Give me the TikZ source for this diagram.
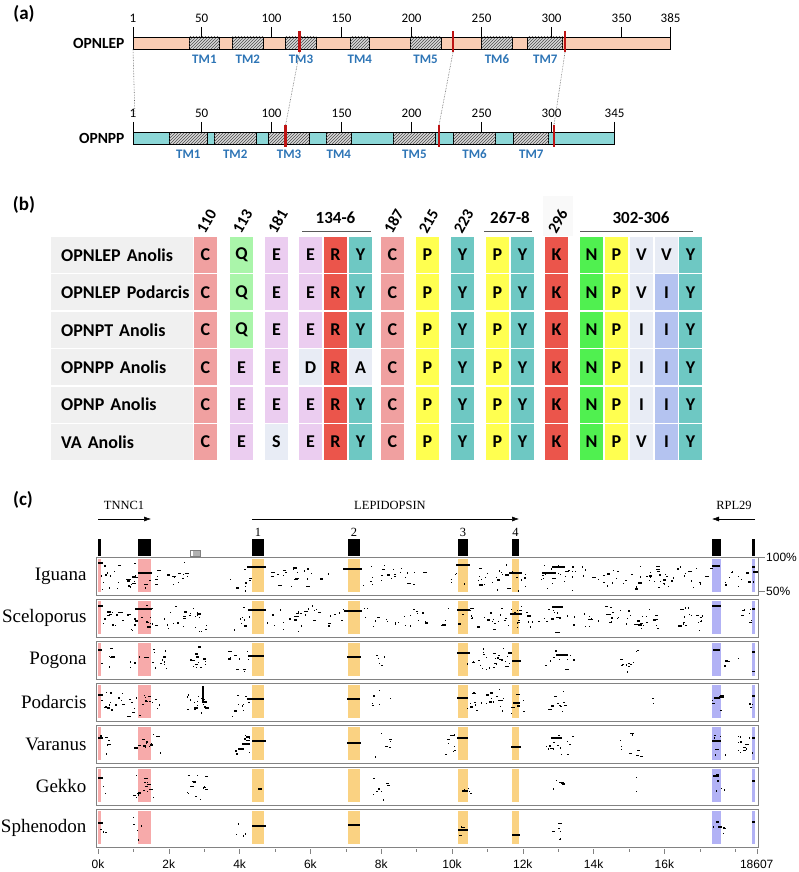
\documentclass[tikz,border=0pt]{standalone}
\usepackage{fontspec}
\setmainfont{Carlito}
\newfontfamily\namefont{Liberation Serif}
\newfontfamily\axisfont{Liberation Sans}
\usetikzlibrary{patterns,arrows.meta}
\definecolor{lepfill}{RGB}{250,205,180}
\definecolor{ppfill}{RGB}{140,215,215}
\definecolor{tmblue}{RGB}{46,117,182}
\definecolor{markred}{RGB}{190,20,20}
\definecolor{aaC}{RGB}{240,160,160}
\definecolor{aaQ}{RGB}{170,245,170}
\definecolor{aaE}{RGB}{235,205,240}
\definecolor{aaR}{RGB}{235,85,75}
\definecolor{aaY}{RGB}{110,200,195}
\definecolor{aaP}{RGB}{255,255,80}
\definecolor{aaN}{RGB}{80,240,80}
\definecolor{aaL}{RGB}{232,236,245}
\definecolor{aaI}{RGB}{180,195,240}
\definecolor{rowgray}{RGB}{240,240,240}
\definecolor{exonpink}{RGB}{247,170,170}
\definecolor{exonorange}{RGB}{250,210,130}
\definecolor{exonblue}{RGB}{178,178,245}
\definecolor{boxgray}{RGB}{130,130,130}
\newcommand{\fsz}[1]{\fontsize{#1}{#1}\selectfont}
% column centres of the residue table
\def\colx{{205.5,241.5,276.5,310.5,335.5,360.5,392.5,427.5,462.5,497.5,522.5,556.5,591.5,616.5,641.5,666.5,690.5}}
% random alignment hits: top of box, from x, to x, count
\newcommand{\hits}[4]{%
  \foreach \i in {1,...,#4}{
    \pgfmathsetmacro\hx{#2+(#3-#2)*rnd}
    \pgfmathsetmacro\hy{#1+4+30*(rnd+rnd)/2}
    \pgfmathsetmacro\hw{0.8+3.5*rnd^3}
    \fill (\hx,\hy) rectangle ++(\hw,1.3);
  }}

\begin{document}
\begin{tikzpicture}[x=1pt,y=-1pt,
    panel/.style={font=\fsz{19}\bfseries},
    barname/.style={anchor=east, font=\fsz{15.5}\bfseries},
    tmseg/.style={draw, line width=0.8, fill=gray!30, postaction={pattern=north east lines, pattern color=gray!60!black}},
    tmlabel/.style={text=tmblue, font=\fsz{13}\bfseries},
    ticklabel/.style={font=\fsz{13}},
    redmark/.style={markred, line width=2.6},
    rowlabel/.style={fill=rowgray, anchor=west, minimum height=36, text width=132, inner xsep=5, align=left, font=\fsz{18}\bfseries},
    aacell/.style={minimum width=23, minimum height=36, inner sep=0, font=\fsz{18}\bfseries},
    header/.style={rotate=60, anchor=west, inner sep=0, font=\fsz{16}\bfseries},
    group/.style={font=\fsz{17}\bfseries},
    genelabel/.style={font=\namefont\fsz{12.5}},
    genearrow/.style={line width=0.5, -{Latex[length=7pt,width=5pt]}},
    species/.style={anchor=east, font=\namefont\fsz{19}},
    axislabel/.style={font=\axisfont\fsz{12}},
    hitbar/.style={line width=1.8}]

    \useasboundingbox (0,0) rectangle (799,872);

    % (a) OPNLEP
    \node[panel] (lab-a) at (24,14) {(a)};
    \node[barname] (lep-name) at (128,43) {OPNLEP};
    \fill[lepfill] (133,37) rectangle (670.6,49);
    \foreach \a/\b/\n in {41/63/1,72/94/2,110/132/3,156/170/4,199/221/5,250/272/6,283/308/7}{
      \draw[tmseg] ({133+1.4*(\a-1)},37) rectangle ({133+1.4*(\b-1)},49);
      \node[tmlabel] (lep-tm\n) at ({133+1.4*((\a+\b)/2-1)},59) {TM\n};
    }
    \draw[line width=0.9] (133,37) rectangle (670.6,49);
    \foreach \t in {1,50,100,150,200,250,300,350,385}{
      \draw[line width=0.9] ({133+1.4*(\t-1)},27) -- ({133+1.4*(\t-1)},37);
      \node[ticklabel] (lep-t\t) at ({133+1.4*(\t-1)},18) {\t};
    }
    \foreach \m/\p in {1/120,2/229.6,3/309.6}{
      \draw[redmark] ({133+1.4*(\p-1)},31) -- ({133+1.4*(\p-1)},52);
      \coordinate (lep-m\m) at ({133+1.4*(\p-1)},52);
    }
    \coordinate (lep-start) at (133,49);

    % (a) OPNPP
    \node[barname] (pp-name) at (128,138) {OPNPP};
    \fill[ppfill] (133,132) rectangle (614.6,144);
    \foreach \a/\b/\n in {27/54/1,59/89/2,98/127/3,139/157/4,187/217/5,230/260/6,273/298/7}{
      \draw[tmseg] ({133+1.4*(\a-1)},132) rectangle ({133+1.4*(\b-1)},144);
      \node[tmlabel] (pp-tm\n) at ({133+1.4*((\a+\b)/2-1)},154) {TM\n};
    }
    \draw[line width=0.9] (133,132) rectangle (614.6,144);
    \foreach \t in {1,50,100,150,200,250,300,345}{
      \draw[line width=0.9] ({133+1.4*(\t-1)},122) -- ({133+1.4*(\t-1)},132);
      \node[ticklabel] (pp-t\t) at ({133+1.4*(\t-1)},113) {\t};
    }
    \foreach \m/\p in {1/110,2/219.6,3/301.7}{
      \draw[redmark] ({133+1.4*(\p-1)},125) -- ({133+1.4*(\p-1)},147);
      \coordinate (pp-m\m) at ({133+1.4*(\p-1)},125);
    }
    \coordinate (pp-start) at (135,118);

    % dotted links between the bars
    \draw[densely dotted, gray!80!black, line width=0.6] (lep-start) -- (pp-start);
    \foreach \m in {1,2,3} \draw[densely dotted, gray!80!black, line width=0.6] (lep-m\m) -- (pp-m\m);

    % (b) residue table
    \node[panel] (lab-b) at (24,205) {(b)};
    \fill[gray!5] (543,196) rectangle (573,236);
    \foreach \n/\k in {110/1,113/2,181/3,187/7,215/8,223/9,296/12}{
      \pgfmathsetmacro\cx{\colx[\k-1]}
      \node[header] (h\n) at (\cx-5,232) {\n};
    }
    \node[group] (g134) at (335.5,218) {134-6};
    \draw[gray!70!black, line width=0.8] (302,231) -- (371,231);
    \node[group] (g267) at (510,218) {267-8};
    \draw[gray!70!black, line width=0.8] (484,231) -- (532,231);
    \node[group] (g302) at (641,218) {302-306};
    \draw[gray!70!black, line width=0.8] (580,231) -- (693,231);

    \foreach \r/\name/\res in {
      1/{OPNLEP Anolis}/{C/C,Q/Q,E/E,E/E,R/R,Y/Y,C/C,P/P,Y/Y,P/P,Y/Y,K/R,N/N,P/P,V/L,V/L,Y/Y},
      2/{OPNLEP Podarcis}/{C/C,Q/Q,E/E,E/E,R/R,Y/Y,C/C,P/P,Y/Y,P/P,Y/Y,K/R,N/N,P/P,V/L,I/I,Y/Y},
      3/{OPNPT Anolis}/{C/C,Q/Q,E/E,E/E,R/R,Y/Y,C/C,P/P,Y/Y,P/P,Y/Y,K/R,N/N,P/P,I/L,I/I,Y/Y},
      4/{OPNPP Anolis}/{C/C,E/E,E/E,D/L,R/R,A/L,C/C,P/P,Y/Y,P/P,Y/Y,K/R,N/N,P/P,I/L,I/I,Y/Y},
      5/{OPNP Anolis}/{C/C,E/E,E/E,E/E,R/R,Y/Y,C/C,P/P,Y/Y,P/P,Y/Y,K/R,N/N,P/P,I/L,I/I,Y/Y},
      6/{VA Anolis}/{C/C,E/E,S/L,E/E,R/R,Y/Y,C/C,P/P,Y/Y,P/P,Y/Y,K/R,N/N,P/P,V/L,I/I,Y/Y}}{
      \pgfmathsetmacro\ry{255+37.4*(\r-1)}
      \node[rowlabel] (row\r) at (51,\ry) {\hspace*{5pt}\mbox{\name}};
      \foreach \l/\c [count=\k] in \res {
        \pgfmathsetmacro\cx{\colx[\k-1]}
        \node[aacell, fill=aa\c] (r\r c\k) at (\cx,\ry) {\l};
      }
    }

    % (c) conservation plot
    \node[panel] (lab-c) at (23,500) {(c)};
    \node[genelabel] (tnnc1) at (124,505) {TNNC1};
    \coordinate (tnnc1-from) at (98,519);
    \coordinate (tnnc1-to) at (151,519);
    \draw[genearrow] (tnnc1-from) -- (tnnc1-to);
    \node[genelabel] (lepi) at (390,505) {LEPIDOPSIN};
    \coordinate (lepi-from) at (252,519);
    \coordinate (lepi-to) at (519,519);
    \draw[genearrow] (lepi-from) -- (lepi-to);
    \node[genelabel] (rpl29) at (734,505) {RPL29};
    \coordinate (rpl29-from) at (755,519);
    \coordinate (rpl29-to) at (712,519);
    \draw[genearrow] (rpl29-from) -- (rpl29-to);

    % exons
    \foreach \a/\b in {98/101,138/151,252/264,348/360,458/468,512/519,712/721,752/755}
      \fill (\a,539) rectangle (\b,556);
    \fill[gray!60] (193,550) rectangle (200,556);
    \draw[gray, line width=0.6] (190,550) rectangle (200,556);
    \foreach \n/\x in {1/258,2/354,3/463,4/515.5}
      \node[genelabel] (ex\n) at (\x,532) {\n};

    % boxes and shading
    \foreach \s/\ytop in {Iguana/557,Sceloporus/599,Pogona/641,Podarcis/683,Varanus/725,Gekko/767,Sphenodon/809}{
      \foreach \a/\b in {98/101,138/151}
        \fill[exonpink] (\a,{\ytop+2}) rectangle (\b,{\ytop+35});
      \foreach \a/\b in {252/264,348/360,458/468,512/519}
        \fill[exonorange] (\a,{\ytop+2}) rectangle (\b,{\ytop+35});
      \foreach \a/\b in {712/721,752/755}
        \fill[exonblue] (\a,{\ytop+2}) rectangle (\b,{\ytop+35});
      \node[species] (sp-\s) at (90,{\ytop+19}) {\s};
    }

    % hits
    \pgfmathsetseed{12}
    % Iguana
    \hits{557}{100}{190}{45}\hits{557}{228}{250}{8}\hits{557}{266}{330}{20}
    \hits{557}{362}{425}{22}\hits{557}{446}{528}{30}\hits{557}{540}{660}{55}
    \hits{557}{662}{710}{20}\hits{557}{722}{755}{12}
    \foreach \a/\b/\y in {98/103/563,138/152/573,247/266/567,343/362/569,456/470/565,509/522/573,542/556/573,552/565/567,712/720/566,752/755/567}
      \draw[hitbar] (\a,\y) -- (\b,\y);
    % Sceloporus
    \hits{599}{100}{210}{55}\hits{599}{228}{250}{8}\hits{599}{266}{345}{30}
    \hits{599}{362}{425}{22}\hits{599}{440}{530}{40}\hits{599}{532}{575}{15}
    \hits{599}{580}{660}{40}\hits{599}{676}{710}{18}\hits{599}{735}{755}{8}
    \foreach \a/\b/\y in {98/103/606,135/152/609,248/266/610,344/362/611,457/470/610,510/522/614,552/563/607,712/721/606,752/755/609}
      \draw[hitbar] (\a,\y) -- (\b,\y);
    % Pogona
    \hits{641}{100}{112}{6}\hits{641}{128}{172}{16}\hits{641}{188}{206}{14}
    \hits{641}{228}{248}{10}\hits{641}{375}{390}{5}\hits{641}{466}{510}{30}
    \hits{641}{545}{575}{10}\hits{641}{618}{637}{12}\hits{641}{722}{755}{5}
    \foreach \a/\b/\y in {98/102/650,248/264/656,347/361/657,457/470/653,512/521/661,556/568/655,713/720/650,752/755/652}
      \draw[hitbar] (\a,\y) -- (\b,\y);
    % Podarcis
    \hits{683}{100}{137}{20}\hits{683}{137}{160}{12}\hits{683}{186}{206}{18}
    \hits{683}{228}{250}{10}\hits{683}{370}{392}{6}\hits{683}{466}{505}{25}
    \hits{683}{508}{525}{8}\hits{683}{548}{565}{10}\hits{683}{650}{654}{3}
    \hits{683}{712}{725}{6}\hits{683}{748}{753}{3}
    \fill (202,686) rectangle (204,703);
    \foreach \a/\b/\y in {98/103/695,248/264/699,347/360/699,457/468/698,513/520/703,714/720/698,752/755/696}
      \draw[hitbar] (\a,\y) -- (\b,\y);
    % Varanus
    \hits{725}{100}{110}{6}\hits{725}{133}{160}{14}\hits{725}{233}{250}{10}
    \hits{725}{370}{392}{6}\hits{725}{443}{460}{8}\hits{725}{545}{575}{15}
    \hits{725}{620}{640}{10}\hits{725}{712}{725}{6}\hits{725}{735}{755}{12}
    \foreach \a/\b/\y in {98/103/738,238/244/749,243/250/744,252/266/741,347/361/743,457/468/738,511/521/747,551/560/738,712/721/741,752/755/738}
      \draw[hitbar] (\a,\y) -- (\b,\y);
    % Gekko
    \hits{767}{103}{106}{2}\hits{767}{133}{155}{15}\hits{767}{185}{205}{14}
    \hits{767}{370}{392}{8}\hits{767}{458}{470}{4}\hits{767}{550}{562}{5}
    \hits{767}{634}{638}{2}\hits{767}{712}{725}{6}
    \foreach \a/\b/\y in {98/103/778,258/262/789,462/468/791,716/719/775,752/755/781}
      \draw[hitbar] (\a,\y) -- (\b,\y);
    % Sphenodon
    \hits{809}{100}{106}{3}\hits{809}{133}{145}{5}\hits{809}{235}{252}{4}
    \hits{809}{455}{462}{3}\hits{809}{548}{562}{8}\hits{809}{712}{725}{5}
    \foreach \a/\b/\y in {98/103/823,252/266/826,348/360/825,458/468/830,512/520/835,716/719/822,752/755/822}
      \draw[hitbar] (\a,\y) -- (\b,\y);

    % box outlines
    \foreach \ytop in {557,599,641,683,725,767,809}
      \draw[boxgray, line width=1] (96,\ytop) rectangle (758,{\ytop+38});

    % percent scale
    \draw[boxgray] (758,557) -- (765,557);
    \node[axislabel, anchor=west, inner sep=1] (p100) at (765,557) {100\%};
    \draw[boxgray] (758,591) -- (765,591);
    \node[axislabel, anchor=west, inner sep=1] (p50) at (765,591) {50\%};

    % x axis
    \foreach \k in {0,...,18}{
      \ifodd\k
        \draw[boxgray] ({98+35.4*\k},849) -- ({98+35.4*\k},852);
      \else
        \ifnum\k<18
          \draw[boxgray] ({98+35.4*\k},849) -- ({98+35.4*\k},854);
          \node[axislabel] (ax\k) at ({98+35.4*\k},864) {\k k};
        \else
          \draw[boxgray] ({98+35.4*\k},849) -- ({98+35.4*\k},852);
        \fi
      \fi
    }
    \draw[boxgray] (756.7,849) -- (756.7,854);
    \node[axislabel] (axend) at (756.7,864) {18607};
\end{tikzpicture}
\end{document}
